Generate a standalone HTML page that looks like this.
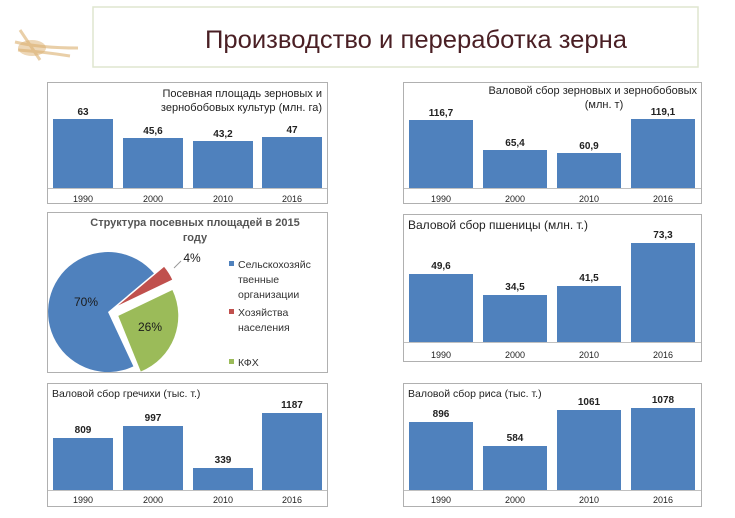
<!DOCTYPE html>
<html><head><meta charset="utf-8"><style>
html,body{margin:0;padding:0;background:#fff}
svg{display:block}
text{font-family:"Liberation Sans","DejaVu Sans",sans-serif}
</style></head><body>
<svg width="735" height="518" viewBox="0 0 735 518" xmlns="http://www.w3.org/2000/svg">
<rect width="735" height="518" fill="#fff"/>
<g stroke="#dcb070" stroke-width="3" fill="none" opacity="0.6">
<path d="M15 42 Q40 48 78 48"/><path d="M18 50 Q45 52 70 56"/><path d="M20 30 Q30 45 40 60"/>
</g>
<ellipse cx="32" cy="48" rx="14" ry="8" fill="#dcb070" opacity="0.5"/>
<rect x="93" y="7" width="605" height="60" fill="#fff" stroke="#dfe6cf" stroke-width="1.5"/>
<text x="416" y="48" font-size="25" fill="#4a1f24" text-anchor="middle" textLength="422" lengthAdjust="spacingAndGlyphs">Производство и переработка зерна</text>

<g fill="#4f81bd">
<rect x="53" y="119" width="60" height="69"/><rect x="123" y="138" width="60" height="50"/><rect x="193" y="141" width="60" height="47"/><rect x="262" y="137" width="60" height="51"/>
<rect x="409" y="120" width="64" height="68"/><rect x="483" y="150" width="64" height="38"/><rect x="557" y="153" width="64" height="35"/><rect x="631" y="119" width="64" height="69"/>
<rect x="409" y="274" width="64" height="68"/><rect x="483" y="295" width="64" height="47"/><rect x="557" y="286" width="64" height="56"/><rect x="631" y="243" width="64" height="99"/>
<rect x="53" y="438" width="60" height="52"/><rect x="123" y="426" width="60" height="64"/><rect x="193" y="468" width="60" height="22"/><rect x="262" y="413" width="60" height="77"/>
<rect x="409" y="422" width="64" height="68"/><rect x="483" y="446" width="64" height="44"/><rect x="557" y="410" width="64" height="80"/><rect x="631" y="408" width="64" height="82"/>
</g>
<g fill="none" stroke="#b0b0b0" stroke-width="1">
<rect x="47.5" y="82.5" width="280" height="121"/>
<rect x="403.5" y="82.5" width="298" height="121"/>
<rect x="47.5" y="212.5" width="280" height="160"/>
<rect x="403.5" y="214.5" width="298" height="147"/>
<rect x="47.5" y="383.5" width="280" height="123"/>
<rect x="403.5" y="383.5" width="298" height="123"/>
</g>
<g stroke="#c0c0c0"><line x1="48" y1="188.5" x2="327" y2="188.5"/><line x1="404" y1="188.5" x2="701" y2="188.5"/><line x1="404" y1="342.5" x2="701" y2="342.5"/><line x1="48" y1="490.5" x2="327" y2="490.5"/><line x1="404" y1="490.5" x2="701" y2="490.5"/></g>

<g font-size="9" fill="#222" text-anchor="middle">
<text x="83" y="202">1990</text><text x="153" y="202">2000</text><text x="223" y="202">2010</text><text x="292" y="202">2016</text>
<text x="441" y="202">1990</text><text x="515" y="202">2000</text><text x="589" y="202">2010</text><text x="663" y="202">2016</text>
<text x="441" y="358">1990</text><text x="515" y="358">2000</text><text x="589" y="358">2010</text><text x="663" y="358">2016</text>
<text x="83" y="503">1990</text><text x="153" y="503">2000</text><text x="223" y="503">2010</text><text x="292" y="503">2016</text>
<text x="441" y="503">1990</text><text x="515" y="503">2000</text><text x="589" y="503">2010</text><text x="663" y="503">2016</text>
</g>
<g font-size="10" font-weight="bold" fill="#222" text-anchor="middle">
<text x="83" y="115">63</text><text x="153" y="134">45,6</text><text x="223" y="137">43,2</text><text x="292" y="133">47</text>
<text x="441" y="116">116,7</text><text x="515" y="146">65,4</text><text x="589" y="149">60,9</text><text x="663" y="115">119,1</text>
<text x="441" y="269">49,6</text><text x="515" y="290">34,5</text><text x="589" y="281">41,5</text><text x="663" y="238">73,3</text>
<text x="83" y="433">809</text><text x="153" y="421">997</text><text x="223" y="463">339</text><text x="292" y="408">1187</text>
<text x="441" y="417">896</text><text x="515" y="441">584</text><text x="589" y="405">1061</text><text x="663" y="403">1078</text>
</g>
<g font-size="11" fill="#222">
<text x="322" y="97" text-anchor="end">Посевная площадь зерновых и</text>
<text x="322" y="111" text-anchor="end">зернобобовых культур (млн. га)</text>
<text x="697" y="94" text-anchor="end">Валовой сбор зерновых и зернобобовых</text>
<text x="604" y="108" text-anchor="middle">(млн. т)</text>
<text x="408" y="229" font-size="12">Валовой сбор пшеницы (млн. т.)</text>
<text x="52" y="397" font-size="10.5">Валовой сбор гречихи (тыс. т.)</text>
<text x="408" y="397" font-size="10.5">Валовой сбор риса (тыс. т.)</text>
</g>
<text x="195" y="226" font-size="11" font-weight="bold" fill="#555" text-anchor="middle">Структура посевных площадей в 2015</text>
<text x="195" y="241" font-size="11" font-weight="bold" fill="#555" text-anchor="middle">году</text>
<path d="M108 312 L133.4 366.4 A60 60 0 1 1 154 273.4 Z" fill="#4f81bd"/>
<path d="M118.3 315.9 L172.4 290 A60 60 0 0 1 140.8 371.5 Z" fill="#9bbb59"/>
<path d="M118.1 305.5 L164.1 266.9 A60 60 0 0 1 172.2 279.6 Z" fill="#c0504d"/>
<text x="86" y="306" font-size="12" fill="#1a1a1a" text-anchor="middle">70%</text>
<text x="150" y="331" font-size="12" fill="#1a1a1a" text-anchor="middle">26%</text>
<text x="192" y="262" font-size="12" fill="#1a1a1a" text-anchor="middle">4%</text>
<line x1="174" y1="268" x2="181" y2="261" stroke="#999"/>
<rect x="229" y="261" width="5" height="5" fill="#4f81bd"/>
<rect x="229" y="309" width="5" height="5" fill="#c0504d"/>
<rect x="229" y="359" width="5" height="5" fill="#9bbb59"/>
<g font-size="10.5" fill="#333">
<text x="238" y="268">Сельскохозяйс</text><text x="238" y="283">твенные</text><text x="238" y="298">организации</text>
<text x="238" y="316">Хозяйства</text><text x="238" y="331">населения</text>
<text x="238" y="366">КФХ</text>
</g>
</svg>
</body></html>
